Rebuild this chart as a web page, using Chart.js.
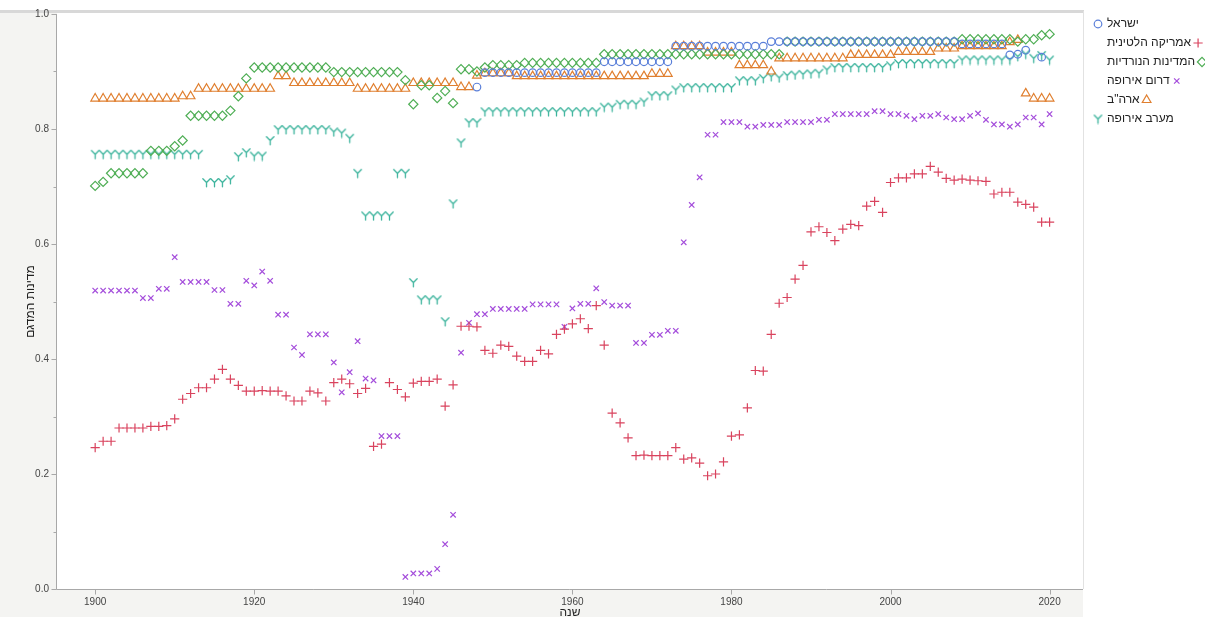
<!DOCTYPE html>
<html>
<head>
<meta charset="utf-8">
<script src="https://cdn.jsdelivr.net/npm/chart.js@4.4.0/dist/chart.umd.min.js"></script>
<style>
  html, body { margin: 0; padding: 0; background: #ffffff; }
  #wrap { width: 1205px; height: 617px; position: relative; }
</style>
</head>
<body>
<div id="wrap"><canvas id="c" width="1205" height="617"></canvas></div>
<script>
// Years on the horizontal axis
const years = [
  1900,1901,1902,1903,1904,1905,1906,1907,1908,1909,
  1910,1911,1912,1913,1914,1915,1916,1917,1918,1919,
  1920,1921,1922,1923,1924,1925,1926,1927,1928,1929,
  1930,1931,1932,1933,1934,1935,1936,1937,1938,1939,
  1940,1941,1942,1943,1944,1945,1946,1947,1948,1949,
  1950,1951,1952,1953,1954,1955,1956,1957,1958,1959,
  1960,1961,1962,1963,1964,1965,1966,1967,1968,1969,
  1970,1971,1972,1973,1974,1975,1976,1977,1978,1979,
  1980,1981,1982,1983,1984,1985,1986,1987,1988,1989,
  1990,1991,1992,1993,1994,1995,1996,1997,1998,1999,
  2000,2001,2002,2003,2004,2005,2006,2007,2008,2009,
  2010,2011,2012,2013,2014,2015,2016,2017,2018,2019,
  2020
];

const israel = [
  null,null,null,null,null,null,null,null,null,null,
  null,null,null,null,null,null,null,null,null,null,
  null,null,null,null,null,null,null,null,null,null,
  null,null,null,null,null,null,null,null,null,null,
  null,null,null,null,null,null,null,null,0.873,0.898,
  0.898,0.898,0.898,0.898,0.898,0.898,0.898,0.898,0.898,0.898,
  0.898,0.898,0.898,0.898,0.917,0.917,0.917,0.917,0.917,0.917,
  0.917,0.917,0.917,0.944,0.944,0.944,0.944,0.944,0.944,0.944,
  0.944,0.944,0.944,0.944,0.944,0.952,0.952,0.952,0.952,0.952,
  0.952,0.952,0.952,0.952,0.952,0.952,0.952,0.952,0.952,0.952,
  0.952,0.952,0.952,0.952,0.952,0.952,0.952,0.952,0.952,0.948,
  0.948,0.948,0.948,0.948,0.948,0.929,0.930,0.937,null,0.925,
  null
];

const latinAmerica = [
  0.246,0.257,0.257,0.280,0.280,0.280,0.280,0.283,0.283,0.284,
  0.296,0.330,0.340,0.350,0.350,0.365,0.382,0.365,0.354,0.344,
  0.344,0.345,0.344,0.344,0.336,0.327,0.327,0.344,0.341,0.327,
  0.359,0.365,0.357,0.340,0.349,0.248,0.252,0.359,0.347,0.334,
  0.358,0.361,0.361,0.365,0.318,0.355,0.457,0.457,0.456,0.415,
  0.410,0.424,0.422,0.405,0.396,0.396,0.415,0.409,0.443,0.452,
  0.461,0.470,0.453,0.493,0.424,0.306,0.289,0.263,0.232,0.233,
  0.232,0.232,0.232,0.246,0.226,0.228,0.219,0.197,0.200,0.221,
  0.266,0.268,0.315,0.380,0.379,0.443,0.497,0.507,0.539,0.563,
  0.621,0.630,0.620,0.606,0.626,0.634,0.632,0.666,0.674,0.655,
  0.707,0.715,0.715,0.722,0.722,0.735,0.725,0.714,0.711,0.713,
  0.711,0.710,0.709,0.687,0.690,0.690,0.673,0.669,0.664,0.638,
  0.638
];

const nordic = [
  0.701,0.708,0.723,0.723,0.723,0.723,0.723,0.762,0.762,0.762,
  0.770,0.780,0.823,0.823,0.823,0.823,0.823,0.832,0.857,0.888,
  0.907,0.907,0.907,0.907,0.907,0.907,0.907,0.907,0.907,0.907,
  0.899,0.899,0.899,0.899,0.899,0.899,0.899,0.899,0.899,0.885,
  0.843,0.876,0.876,0.854,0.866,0.845,0.904,0.904,0.900,0.907,
  0.911,0.911,0.911,0.911,0.915,0.915,0.915,0.915,0.915,0.915,
  0.915,0.915,0.915,0.915,0.930,0.930,0.930,0.930,0.930,0.930,
  0.930,0.930,0.930,0.930,0.930,0.930,0.930,0.930,0.930,0.930,
  0.930,0.930,0.930,0.930,0.930,0.930,0.930,0.952,0.952,0.952,
  0.952,0.952,0.952,0.952,0.952,0.952,0.952,0.952,0.952,0.952,
  0.952,0.952,0.952,0.952,0.952,0.952,0.952,0.952,0.952,0.956,
  0.956,0.956,0.956,0.956,0.956,0.956,0.952,0.956,0.956,0.963,
  0.965
];

const southEurope = [
  0.519,0.519,0.519,0.519,0.519,0.519,0.506,0.506,0.522,0.522,
  0.577,0.534,0.534,0.534,0.534,0.520,0.520,0.496,0.496,0.536,
  0.528,0.552,0.536,0.477,0.477,0.420,0.407,0.443,0.443,0.443,
  0.394,0.342,0.377,0.431,0.366,0.363,0.266,0.266,0.266,0.021,
  0.027,0.027,0.027,0.035,0.078,0.129,0.411,0.463,0.478,0.478,
  0.487,0.487,0.487,0.487,0.487,0.495,0.495,0.495,0.495,0.456,
  0.488,0.496,0.496,0.523,0.499,0.493,0.493,0.493,0.428,0.428,
  0.442,0.442,0.449,0.449,0.603,0.668,0.716,0.790,0.790,0.812,
  0.812,0.812,0.804,0.804,0.807,0.807,0.807,0.812,0.812,0.812,
  0.812,0.816,0.816,0.826,0.826,0.826,0.826,0.826,0.831,0.831,
  0.826,0.826,0.823,0.817,0.823,0.823,0.826,0.820,0.817,0.817,
  0.823,0.827,0.816,0.808,0.808,0.804,0.808,0.820,0.820,0.808,
  0.826
];

const usa = [
  0.853,0.853,0.853,0.853,0.853,0.853,0.853,0.853,0.853,0.853,
  0.853,0.857,0.857,0.870,0.870,0.870,0.870,0.870,0.870,0.870,
  0.870,0.870,0.870,0.892,0.892,0.880,0.880,0.880,0.880,0.880,
  0.880,0.880,0.880,0.870,0.870,0.870,0.870,0.870,0.870,0.870,
  0.880,0.880,0.880,0.880,0.880,0.880,0.873,0.873,0.893,0.897,
  0.897,0.897,0.897,0.892,0.892,0.892,0.892,0.892,0.892,0.892,
  0.892,0.892,0.892,0.892,0.892,0.892,0.892,0.892,0.892,0.892,
  0.896,0.896,0.896,0.944,0.944,0.944,0.944,0.933,0.933,0.933,
  0.933,0.911,0.911,0.911,0.911,0.900,0.923,0.923,0.923,0.923,
  0.923,0.923,0.923,0.923,0.923,0.929,0.929,0.929,0.929,0.929,
  0.929,0.934,0.934,0.934,0.934,0.934,0.940,0.940,0.940,0.944,
  0.944,0.944,0.944,0.944,0.944,0.951,0.955,0.862,0.853,0.853,
  0.853
];

const westEurope = [
  0.756,0.756,0.756,0.756,0.756,0.756,0.756,0.756,0.756,0.756,
  0.756,0.756,0.756,0.756,0.707,0.707,0.707,0.712,0.752,0.759,
  0.753,0.753,0.780,0.799,0.799,0.799,0.799,0.799,0.799,0.799,
  0.795,0.793,0.784,0.723,0.649,0.649,0.649,0.649,0.723,0.723,
  0.533,0.503,0.503,0.503,0.465,0.670,0.776,0.811,0.811,0.830,
  0.830,0.830,0.830,0.830,0.830,0.830,0.830,0.830,0.830,0.830,
  0.830,0.830,0.830,0.830,0.838,0.838,0.843,0.843,0.843,0.847,
  0.858,0.858,0.858,0.868,0.872,0.872,0.872,0.872,0.872,0.872,
  0.872,0.884,0.884,0.884,0.888,0.891,0.889,0.893,0.894,0.895,
  0.896,0.897,0.903,0.907,0.907,0.907,0.907,0.907,0.907,0.907,
  0.910,0.914,0.914,0.914,0.914,0.914,0.914,0.914,0.914,0.920,
  0.920,0.920,0.920,0.920,0.920,0.920,0.926,0.930,0.923,0.928,
  0.920
];

const xTickValues = [1900, 1920, 1940, 1960, 1980, 2000, 2020];
const yTickValues = [0, 0.1, 0.2, 0.3, 0.4, 0.5, 0.6, 0.7, 0.8, 0.9, 1.0];

const seriesNames = ['ישראל', 'אמריקה הלטינית', 'המדינות הנורדיות', 'דרום אירופה', 'ארה"ב', 'מערב אירופה'];

const COLORS = {
  israel: '#5a7fd9',
  latin: '#d9435e',
  nordic: '#4fae55',
  south: '#a44ddb',
  usa: '#e07f2f',
  west: '#3bb39c'
};

// "Y" shaped marker drawn into a small canvas
function makeYMarker(color) {
  const c = document.createElement('canvas');
  c.width = 11; c.height = 11;
  const g = c.getContext('2d');
  g.strokeStyle = color;
  g.lineWidth = 1.3;
  g.lineCap = 'round';
  g.beginPath();
  g.moveTo(1.8, 1.8); g.lineTo(5.5, 5.5); g.lineTo(9.2, 1.8);
  g.moveTo(5.5, 5.5); g.lineTo(5.5, 9.8);
  g.stroke();
  return c;
}
const yMarker = makeYMarker(COLORS.west);

function toPoints(values) {
  const pts = [];
  years.forEach((yr, i) => { if (values[i] !== null) pts.push({ x: yr, y: values[i] }); });
  return pts;
}

const markerSpecs = [
  { values: israel, color: COLORS.israel, style: 'circle', radius: 3.8 },
  { values: latinAmerica, color: COLORS.latin, style: 'cross', radius: 4.6 },
  { values: nordic, color: COLORS.nordic, style: 'rectRot', radius: 4.6 },
  { values: southEurope, color: COLORS.south, style: 'crossRot', radius: 3.8 },
  { values: usa, color: COLORS.usa, style: 'triangle', radius: 5.0 },
  { values: westEurope, color: COLORS.west, style: yMarker, radius: 5.5 }
];

const datasets = markerSpecs.map((s, i) => ({
  label: seriesNames[i],
  data: toPoints(s.values),
  showLine: false,
  pointStyle: s.style,
  pointRadius: s.radius,
  pointHoverRadius: s.radius,
  pointBorderWidth: 1.2,
  pointBorderColor: s.color,
  pointBackgroundColor: 'rgba(0,0,0,0)',
  borderColor: s.color,
  backgroundColor: 'rgba(0,0,0,0)'
}));

const PLOT = { left: 57, top: 14, right: 1083, bottom: 589 };
const PANEL_GRAY = '#f4f4f2';

// Backdrop: grey panel around the axes, white plot and legend area
const backdrop = {
  id: 'backdrop',
  beforeDraw(chart) {
    const { ctx, width, height, chartArea } = chart;
    ctx.save();
    ctx.fillStyle = '#ffffff';
    ctx.fillRect(0, 0, width, height);
    ctx.fillStyle = PANEL_GRAY;
    ctx.fillRect(0, 11, chartArea.left, height - 11);
    ctx.fillRect(chartArea.left, chartArea.bottom, chartArea.right - chartArea.left, height - chartArea.bottom);
    ctx.fillStyle = '#ffffff';
    ctx.fillRect(chartArea.left, chartArea.top, chartArea.right - chartArea.left, chartArea.bottom - chartArea.top);
    // frame along the top and right of the plot
    ctx.strokeStyle = '#d8d8d8';
    ctx.lineWidth = 3;
    ctx.beginPath();
    ctx.moveTo(0, 11.5); ctx.lineTo(chartArea.right + 1, 11.5);
    ctx.stroke();
    ctx.lineWidth = 1;
    ctx.strokeStyle = '#e2e2e2';
    ctx.beginPath();
    ctx.moveTo(chartArea.right + 0.5, 11); ctx.lineTo(chartArea.right + 0.5, chartArea.bottom);
    ctx.stroke();
    ctx.restore();
  }
};

// Minor / major tick marks and axis lines
const axisMarks = {
  id: 'axisMarks',
  afterDatasetsDraw(chart) {
    const { ctx, chartArea, scales } = chart;
    ctx.save();
    ctx.strokeStyle = '#a8a8a8';
    ctx.lineWidth = 1;
    ctx.beginPath();
    ctx.moveTo(chartArea.left - 0.5, chartArea.top);
    ctx.lineTo(chartArea.left - 0.5, chartArea.bottom + 0.5);
    ctx.lineTo(chartArea.right, chartArea.bottom + 0.5);
    ctx.stroke();
    yTickValues.forEach((v, i) => {
      const py = Math.round(scales.y.getPixelForValue(v)) + 0.5;
      const len = i % 2 === 0 ? 5 : 3;
      ctx.beginPath();
      ctx.moveTo(chartArea.left - 0.5 - len, py);
      ctx.lineTo(chartArea.left - 0.5, py);
      ctx.stroke();
    });
    xTickValues.forEach(v => {
      const px = Math.round(scales.x.getPixelForValue(v)) + 0.5;
      ctx.beginPath();
      ctx.moveTo(px, chartArea.bottom + 0.5);
      ctx.lineTo(px, chartArea.bottom + 5.5);
      ctx.stroke();
    });
    ctx.restore();
  }
};

// Legend at the right of the plot
const sideLegend = {
  id: 'sideLegend',
  afterDraw(chart) {
    const { ctx } = chart;
    ctx.save();
    ctx.font = '12px "Liberation Sans", Arial, sans-serif';
    ctx.textBaseline = 'middle';
    ctx.textAlign = 'left';
    const textX = 1107;
    const markerBefore = [true, false, false, false, false, true];
    seriesNames.forEach((name, i) => {
      const y = 24 + i * 19;
      const spec = markerSpecs[i];
      ctx.fillStyle = '#222222';
      ctx.fillText(name, textX, y);
      const w = ctx.measureText(name).width;
      const mx = markerBefore[i] ? 1098 : textX + w + 7;
      ctx.strokeStyle = spec.color;
      ctx.fillStyle = 'rgba(0,0,0,0)';
      ctx.lineWidth = 1.2;
      Chart.helpers.drawPoint(ctx, { pointStyle: spec.style, radius: spec.radius, borderWidth: 1.2, rotation: 0 }, mx, y);
    });
    ctx.restore();
  }
};

const chart = new Chart(document.getElementById('c'), {
  type: 'scatter',
  data: { datasets },
  plugins: [backdrop, axisMarks, sideLegend],
  options: {
    responsive: false,
    animation: false,
    layout: { padding: { left: 0, top: PLOT.top, right: 1205 - PLOT.right, bottom: 0 } },
    plugins: {
      legend: { display: false },
      tooltip: { enabled: false },
      title: { display: false }
    },
    scales: {
      x: {
        type: 'linear',
        min: 1895.2,
        max: 2024.2,
        afterFit(scale) { scale.height = 617 - PLOT.bottom; },
        afterBuildTicks(scale) { scale.ticks = xTickValues.map(v => ({ value: v })); },
        grid: { display: false, drawTicks: false },
        border: { display: false },
        ticks: {
          padding: 7,
          color: '#444444',
          font: { size: 10, family: '"Liberation Sans", Arial, sans-serif' },
          callback: v => String(v)
        },
        title: {
          display: true,
          text: 'שנה',
          color: '#222222',
          font: { size: 12, family: '"Liberation Sans", Arial, sans-serif' },
          padding: { top: 0, bottom: -3 }
        }
      },
      y: {
        type: 'linear',
        min: 0,
        max: 1,
        afterFit(scale) { scale.width = PLOT.left; },
        afterBuildTicks(scale) { scale.ticks = yTickValues.filter((v, i) => i % 2 === 0).map(v => ({ value: v })); },
        grid: { display: false, drawTicks: false },
        border: { display: false },
        ticks: {
          padding: 8,
          color: '#444444',
          font: { size: 10, family: '"Liberation Sans", Arial, sans-serif' },
          callback: v => Number(v).toFixed(1)
        },
        title: {
          display: true,
          text: 'מדינות המדגם',
          color: '#222222',
          font: { size: 12, family: '"Liberation Sans", Arial, sans-serif' },
          padding: { top: 23, bottom: 0 }
        }
      }
    }
  }
});
</script>
</body>
</html>
